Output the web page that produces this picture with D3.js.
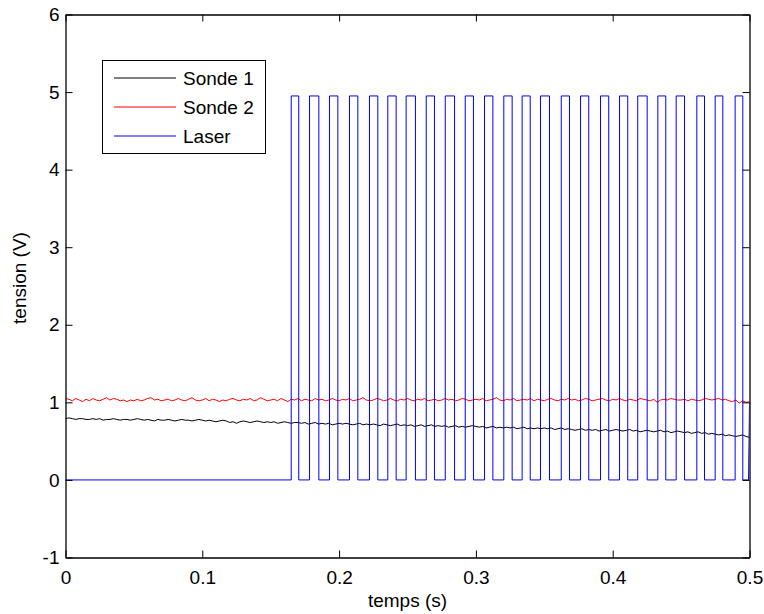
<!DOCTYPE html>
<html>
<head>
<meta charset="utf-8">
<script src="https://cdn.jsdelivr.net/npm/d3@7"></script>
<style>
  html, body { margin: 0; padding: 0; background: #fff; }
  svg { display: block; }
  text { font-family: "Liberation Sans", Arial, Helvetica, sans-serif; fill: #000; }
</style>
</head>
<body>
<svg id="chart" width="764" height="614"></svg>
<script>
// ---------------- data ----------------
const xTicks = [0, 0.1, 0.2, 0.3, 0.4, 0.5];
const xTickLabels = ["0", "0.1", "0.2", "0.3", "0.4", "0.5"];
const yTicks = [-1, 0, 1, 2, 3, 4, 5, 6];
const yTickLabels = ["-1", "0", "1", "2", "3", "4", "5", "6"];
const seriesNames = ["Sonde 1", "Sonde 2", "Laser"];
const seriesColors = ["#000000", "#ff0000", "#0000ff"];

const sampleStep = 0.0025; // s, sampling of the probe signals

const sonde1 = [
  0.79,0.80,0.79,0.78,0.79,0.79,0.78,0.78,0.79,0.78,
  0.79,0.77,0.78,0.78,0.79,0.78,0.77,0.78,0.78,0.77,
  0.78,0.79,0.78,0.77,0.78,0.77,0.76,0.78,0.77,0.77,
  0.78,0.77,0.76,0.77,0.78,0.77,0.77,0.76,0.77,0.78,
  0.77,0.76,0.77,0.76,0.75,0.76,0.77,0.76,0.74,0.75,
  0.73,0.75,0.76,0.75,0.74,0.75,0.76,0.75,0.74,0.75,
  0.74,0.75,0.73,0.74,0.75,0.74,0.73,0.74,0.74,0.73,
  0.74,0.72,0.73,0.74,0.72,0.73,0.72,0.73,0.71,0.72,
  0.73,0.72,0.73,0.72,0.71,0.72,0.73,0.71,0.72,0.71,
  0.72,0.71,0.70,0.72,0.71,0.70,0.71,0.72,0.70,0.71,
  0.70,0.71,0.69,0.70,0.71,0.69,0.70,0.71,0.69,0.70,
  0.69,0.70,0.68,0.69,0.70,0.68,0.69,0.68,0.69,0.70,
  0.69,0.68,0.69,0.67,0.68,0.69,0.67,0.68,0.67,0.68,
  0.67,0.68,0.66,0.67,0.68,0.66,0.67,0.66,0.67,0.66,
  0.67,0.66,0.67,0.65,0.66,0.67,0.65,0.66,0.65,0.64,
  0.65,0.66,0.64,0.65,0.64,0.65,0.63,0.64,0.65,0.63,
  0.64,0.65,0.64,0.63,0.64,0.65,0.63,0.64,0.62,0.63,
  0.64,0.63,0.62,0.63,0.64,0.62,0.63,0.61,0.62,0.63,
  0.62,0.61,0.62,0.60,0.61,0.62,0.60,0.61,0.59,0.60,
  0.59,0.58,0.59,0.57,0.58,0.57,0.56,0.57,0.58,0.56,0.55
];

const sonde2 = [
  1.05,1.04,1.02,1.05,1.03,1.01,1.04,1.02,1.05,1.03,
  1.02,1.04,1.06,1.03,1.05,1.04,1.02,1.03,1.01,1.03,
  1.02,1.04,1.02,1.03,1.05,1.06,1.03,1.04,1.02,1.03,
  1.04,1.02,1.03,1.05,1.03,1.02,1.04,1.06,1.03,1.02,
  1.03,1.05,1.02,1.04,1.03,1.01,1.03,1.02,1.04,1.05,
  1.03,1.02,1.04,1.03,1.05,1.02,1.03,1.06,1.04,1.02,
  1.03,1.04,1.02,1.05,1.03,1.01,1.04,1.03,1.05,1.02,
  1.04,1.03,1.02,1.05,1.03,1.04,1.02,1.03,1.05,1.03,
  1.02,1.04,1.03,1.05,1.02,1.03,1.04,1.06,1.03,1.02,
  1.03,1.05,1.04,1.02,1.03,1.05,1.03,1.02,1.04,1.03,
  1.05,1.03,1.02,1.04,1.03,1.05,1.02,1.03,1.04,1.02,
  1.03,1.05,1.03,1.04,1.02,1.03,1.05,1.04,1.02,1.03,
  1.04,1.03,1.05,1.02,1.03,1.04,1.06,1.03,1.02,1.04,
  1.03,1.05,1.02,1.03,1.04,1.03,1.05,1.02,1.04,1.03,
  1.02,1.04,1.05,1.03,1.02,1.04,1.03,1.05,1.03,1.04,
  1.02,1.03,1.05,1.04,1.02,1.03,1.04,1.05,1.03,1.02,
  1.04,1.03,1.05,1.03,1.02,1.04,1.03,1.02,1.05,1.04,
  1.03,1.02,1.04,1.00,1.03,1.04,1.03,1.05,1.04,1.03,
  1.03,1.04,1.02,1.04,1.03,1.02,1.03,1.05,1.04,1.03,
  1.04,1.05,1.03,1.04,1.02,1.01,1.03,0.99,1.02,1.00,1.01
];

// Laser square wave: rising / falling edge times (s) and levels (V)
const laserRise = [0.1650,0.1784,0.1930,0.2076,0.2222,0.2356,0.2490,0.2637,0.2776,0.2922,
                   0.3063,0.3204,0.3338,0.3472,0.3624,0.3765,0.3911,0.4050,0.4183,0.4330,
                   0.4464,0.4615,0.4749,0.4895];
const laserFall = [0.1705,0.1852,0.1991,0.2137,0.2283,0.2417,0.2558,0.2697,0.2844,0.2982,
                   0.3124,0.3265,0.3397,0.3538,0.3684,0.3825,0.3971,0.4110,0.4252,0.4388,
                   0.4525,0.4671,0.4805,0.4951];
const laserLow = 0;
const laserHigh = 4.95;
const laserEnd = [[0.4993, 0], [0.5, 1.0]];

// ---------------- layout ----------------
const svg = d3.select("#chart");
const L = 65.5, R = 749.5, T = 14.5, B = 557.5;
const x = d3.scaleLinear().domain([0, 0.5]).range([L, R]);
const y = d3.scaleLinear().domain([-1, 6]).range([B, T]);
const FS = 19;

// clip
svg.append("clipPath").attr("id", "clip")
  .append("rect").attr("x", L).attr("y", T).attr("width", R - L).attr("height", B - T);

// build point lists
const s1Pts = sonde1.map((v, i) => [i * sampleStep, v]);
const s2Pts = sonde2.map((v, i) => [i * sampleStep, v]);
const laserPts = [[0, laserLow]];
laserRise.forEach((r, i) => {
  laserPts.push([r, laserLow], [r, laserHigh], [laserFall[i], laserHigh], [laserFall[i], laserLow]);
});
laserEnd.forEach(p => laserPts.push(p));

const line = d3.line().x(d => x(d[0])).y(d => y(d[1]));
const g = svg.append("g").attr("clip-path", "url(#clip)");
[s1Pts, s2Pts, laserPts].forEach((pts, i) => {
  g.append("path").attr("d", line(pts))
    .style("fill", "none").style("stroke", seriesColors[i]).style("stroke-width", 1);
});

// axes box with inward ticks on all sides (MATLAB style)
const tickLen = 7;
const axB = svg.append("g").attr("transform", `translate(0,${B})`)
  .call(d3.axisBottom(x).tickValues(xTicks).tickFormat((d, i) => xTickLabels[i]).tickSizeInner(-tickLen).tickSizeOuter(0).tickPadding(tickLen + 6));
const axT = svg.append("g").attr("transform", `translate(0,${T})`)
  .call(d3.axisTop(x).tickValues(xTicks).tickFormat("").tickSizeInner(-tickLen).tickSizeOuter(0));
const axL = svg.append("g").attr("transform", `translate(${L},0)`)
  .call(d3.axisLeft(y).tickValues(yTicks).tickFormat((d, i) => yTickLabels[i]).tickSizeInner(-tickLen).tickSizeOuter(0).tickPadding(6));
const axR = svg.append("g").attr("transform", `translate(${R},0)`)
  .call(d3.axisRight(y).tickValues(yTicks).tickFormat("").tickSizeInner(-tickLen).tickSizeOuter(0));
[axB, axT, axL, axR].forEach(a => {
  a.selectAll("path.domain").attr("stroke", "#000").attr("stroke-width", 1.3);
  a.selectAll(".tick line").attr("stroke", "#000").attr("stroke-width", 1);
  a.selectAll("text").attr("font-size", FS).attr("font-family", "Liberation Sans, Arial, sans-serif").attr("fill", "#000");
});

// axis labels
svg.append("text").attr("x", (L + R) / 2).attr("y", 607)
  .attr("text-anchor", "middle").attr("font-size", FS).text("temps (s)");
svg.append("text").attr("transform", `translate(26,${(T + B) / 2 - 8}) rotate(-90)`)
  .attr("text-anchor", "middle").attr("font-size", FS).text("tension  (V)");

// legend
const lg = svg.append("g");
lg.append("rect").attr("x", 102.5).attr("y", 60.5).attr("width", 163).attr("height", 93)
  .style("fill", "#fff").style("stroke", "#000").style("stroke-width", 1);
seriesNames.forEach((n, i) => {
  const yy = 78 + i * 29;
  lg.append("path").attr("d", `M114,${yy}H176`)
    .style("fill", "none").style("stroke", seriesColors[i]).style("stroke-width", 1.2);
  lg.append("text").attr("x", 183).attr("y", yy + 7).attr("font-size", FS).text(n);
});
</script>
</body>
</html>
